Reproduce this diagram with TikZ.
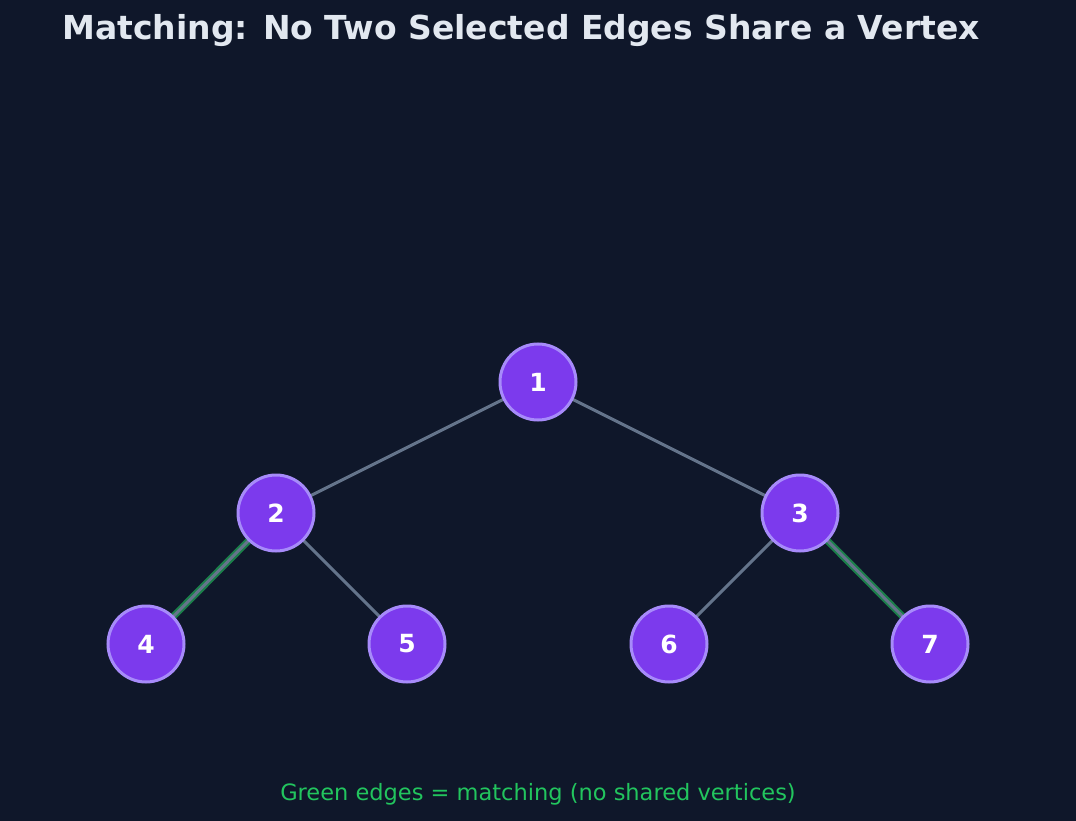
\documentclass[tikz,border=0pt]{standalone}
\usepackage{fontspec}
\setmainfont{DejaVu Sans}
\begin{document}
\begin{tikzpicture}[x=1pt,y=-1pt,
  vtx/.style={circle,fill=vfill,draw=vborder,line width=3pt,minimum size=76pt,inner sep=0pt,text=white,font=\bfseries\fontsize{25}{28}\selectfont},
  edge/.style={draw=edgegray,line width=3pt},
  match/.style={draw=matchgreen,line width=7pt,opacity=0.6}]
\definecolor{bg}{HTML}{0F172A}
\definecolor{vfill}{HTML}{7C3AED}
\definecolor{vborder}{HTML}{A78BFA}
\definecolor{edgegray}{HTML}{64748B}
\definecolor{matchgreen}{HTML}{22C55E}
\definecolor{titlec}{HTML}{E2E8F0}
\fill[bg] (0,0) rectangle (1076,821);
\useasboundingbox (0,0) rectangle (1076,821);
\node[text=titlec,font=\bfseries\fontsize{33}{38}\selectfont] (title) at (521,31) {Matching: No Two Selected Edges Share a Vertex};
\node[text=matchgreen,font=\fontsize{22.5}{26}\selectfont] (cap) at (538,794) {Green edges = matching (no shared vertices)};
\coordinate (p1) at (538,382);
\coordinate (p2) at (276,513);
\coordinate (p3) at (800,513);
\coordinate (p4) at (146,644);
\coordinate (p5) at (407,644);
\coordinate (p6) at (669,644);
\coordinate (p7) at (930,644);
\draw[match] (p2) -- (p4);
\draw[match] (p3) -- (p7);
\draw[edge] (p1) -- (p2);
\draw[edge] (p1) -- (p3);
\draw[edge] (p2) -- (p4);
\draw[edge] (p2) -- (p5);
\draw[edge] (p3) -- (p6);
\draw[edge] (p3) -- (p7);
\foreach \i in {1,...,7} {\node[vtx] (n\i) at (p\i) {\i};}
\end{tikzpicture}
\end{document}
